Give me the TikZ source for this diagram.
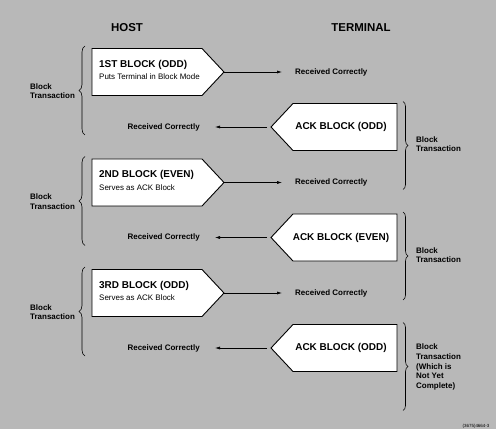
\documentclass[tikz,border=0pt]{standalone}
\usepackage{fontspec}
\setmainfont{Liberation Sans}
\usetikzlibrary{arrows.meta,decorations.pathreplacing}
\newcommand{\RY}{110.5}
\newcommand{\HY}{72}
\newcommand{\TY}{127}
\newcommand{\BH}{23.5}
\definecolor{pgbg}{RGB}{184,184,184}

\begin{document}
\begin{tikzpicture}[x=1bp, y=-1bp,
    >={Latex[length=5bp,width=3bp]},
    blk/.style={draw=black, fill=white, line width=0.9pt},
    sig/.style={->, line width=0.6pt},
    brc/.style={decorate, decoration={brace, amplitude=#1}, line width=0.6pt},
    head/.style={font=\fontsize{11.5}{14}\selectfont\bfseries, inner sep=0pt},
    ttl/.style={font=\fontsize{10}{12}\selectfont\bfseries, inner sep=0pt},
    note/.style={font=\fontsize{8}{9.6}\selectfont, inner sep=0pt},
    rc/.style={font=\fontsize{8}{9.6}\selectfont\bfseries, inner sep=0pt},
    lbl/.style={rc, align=left, anchor=west},
  ]
  \useasboundingbox (0,0) rectangle (496,434);
  \fill[pgbg] (0,0) rectangle (496,429);

  \node[head] (host) at (127,28) {HOST};
  \node[head] (term) at (361,28) {TERMINAL};

  % host side: numbered blocks going out
  \foreach \i/\btitle/\bnote in {1/{1ST BLOCK (ODD)}/{Puts Terminal in Block Mode},
                                 2/{2ND BLOCK (EVEN)}/{Serves as ACK Block},
                                 3/{3RD BLOCK (ODD)}/{Serves as ACK Block}} {
    \pgfmathsetmacro{\cy}{\HY+(\i-1)*\RY}
    \draw[blk] (92,\cy-\BH) -- (202,\cy-\BH) -- (224,\cy) -- (202,\cy+\BH) -- (92,\cy+\BH) -- cycle;
    \coordinate (hp\i) at (224,\cy);
    \node[ttl, anchor=west] (hb\i) at (99,\cy-7.5) {\btitle};
    \node[note, anchor=west] (hn\i) at (99,\cy+5) {\bnote};
    \node[rc, anchor=west] (hr\i) at (295,\cy) {Received Correctly};
    \draw[sig, shorten >=13bp] (hp\i) -- (hr\i.west);
  }

  % terminal side: ACK blocks coming back
  \foreach \i/\btitle in {1/{ACK BLOCK (ODD)}, 2/{ACK BLOCK (EVEN)}, 3/{ACK BLOCK (ODD)}} {
    \pgfmathsetmacro{\cy}{\TY+(\i-1)*\RY}
    \draw[blk] (271,\cy) -- (293,\cy-\BH) -- (397,\cy-\BH) -- (397,\cy+\BH) -- (293,\cy+\BH) -- cycle;
    \coordinate (tp\i) at (271,\cy);
    \node[ttl] (tb\i) at (341,\cy) {\btitle};
    \node[rc, anchor=east] (tr\i) at (200,\cy) {Received Correctly};
    \draw[sig, shorten <=4bp, shorten >=15bp] (tp\i) -- (tr\i.east);
  }

  % one block transaction per brace
  \foreach \i in {1,2,3} {
    \pgfmathsetmacro{\cy}{\HY+(\i-1)*\RY}
    \coordinate (hbl\i) at (85,\cy+63);
    \coordinate (hbu\i) at (85,\cy-26);
    \draw[brc=6bp] (hbl\i) -- (hbu\i);
    \node[lbl] (hl\i) at (30,\cy+19) {Block\\Transaction};
  }
  \foreach \i/\dy/\txt in {1/17/{Block\\Transaction},
                           2/17.5/{Block\\Transaction},
                           3/19/{Block\\Transaction\\(Which is\\Not Yet\\Complete)}} {
    \pgfmathsetmacro{\cy}{\TY+(\i-1)*\RY}
    \coordinate (tbu\i) at (403,\cy-25.5);
    \coordinate (tbl\i) at (403,\cy+62.5);
    \draw[brc=5bp] (tbu\i) -- (tbl\i);
    \node[lbl] (tl\i) at (416,\cy+\dy) {\txt};
  }

  \node[font=\fontsize{4.5}{5}\selectfont, inner sep=0pt] (fig) at (476,426) {(3675)4664-3};

\end{tikzpicture}
\end{document}
